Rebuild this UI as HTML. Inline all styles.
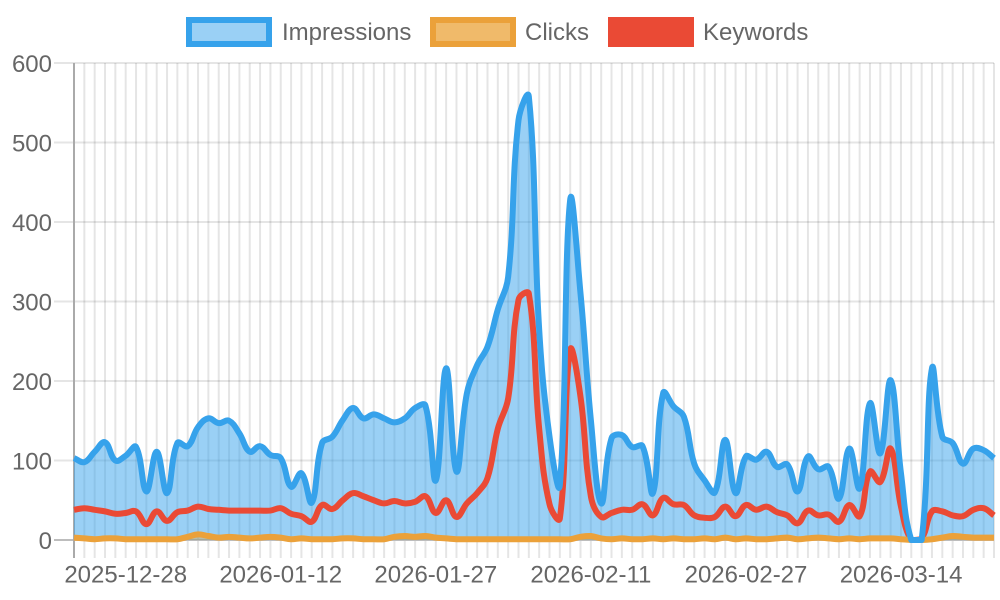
<!DOCTYPE html>
<html>
<head>
<meta charset="utf-8">
<style>
html,body{margin:0;padding:0;background:#fff;}
svg{display:block;}
text{font-family:"Liberation Sans",Arial,sans-serif;fill:#666;}
</style>
</head>
<body>
<svg id="c" width="1000" height="600" viewBox="0 0 1000 600" xmlns="http://www.w3.org/2000/svg">
<rect width="1000" height="600" fill="#fff"/>
<g id="grid"></g>
<g id="series"></g>
<!-- legend -->
<rect x="189" y="20" width="80" height="24" fill="#9ad0f5" stroke="#36a2eb" stroke-width="6"/>
<text x="282" y="40" font-size="24">Impressions</text>
<rect x="433" y="20" width="80" height="24" fill="#f0ba6a" stroke="#eba13a" stroke-width="6"/>
<text x="525" y="40" font-size="24">Clicks</text>
<rect x="611" y="20" width="80" height="24" fill="#ea4a35" stroke="#ea4a35" stroke-width="6"/>
<text x="703" y="40" font-size="24">Keywords</text>
<!-- y labels -->
<g font-size="24" text-anchor="end">
<text x="52" y="72">600</text>
<text x="52" y="151.5">500</text>
<text x="52" y="231">400</text>
<text x="52" y="310.5">300</text>
<text x="52" y="390">200</text>
<text x="52" y="469.5">100</text>
<text x="52" y="549">0</text>
</g>
<!-- x labels -->
<g font-size="24" text-anchor="middle">
<text x="125.7" y="582.5">2025-12-28</text>
<text x="280.7" y="582.5">2026-01-12</text>
<text x="435.8" y="582.5">2026-01-27</text>
<text x="590.9" y="582.5">2026-02-11</text>
<text x="746" y="582.5">2026-02-27</text>
<text x="901.1" y="582.5">2026-03-14</text>
</g>
</svg>
<script>
(function(){
var NS="http://www.w3.org/2000/svg";
var X0=74,X1=994,N=90,DX=(X1-X0)/(N-1),TOP=63,BOT=540;
function yv(v){return BOT-v*(BOT-TOP)/600;}
function el(tag,attrs,parent){var e=document.createElementNS(NS,tag);for(var k in attrs)e.setAttribute(k,attrs[k]);parent.appendChild(e);return e;}
var grid=document.getElementById('grid');
// vertical gridlines
for(var i=1;i<N;i++){var x=X0+i*DX;el('line',{x1:x,x2:x,y1:TOP,y2:558,stroke:'rgba(0,0,0,0.1)','stroke-width':2},grid);}
// horizontal gridlines
for(var k=1;k<=6;k++){var y=yv(k*100);el('line',{x1:54,x2:994,y1:y,y2:y,stroke:'rgba(0,0,0,0.1)','stroke-width':2},grid);}
// zero lines
el('line',{x1:54,x2:994,y1:BOT,y2:BOT,stroke:'#bdbdbd','stroke-width':2},grid);
el('line',{x1:X0,x2:X0,y1:TOP,y2:558,stroke:'#aaaaaa','stroke-width':2},grid);

var imp=[103,98,111,123,100,106,117,61,111,59,122,118,142,153,147,150,134,111,118,107,103,67,84,47,122,130,151,166,153,158,153,148,153,166,169,75,216,86,184,220,243,290,331,528,558,265,130,69,428,310,151,46,128,132,117,118,59,185,168,155,96,75,60,126,59,105,101,111,92,95,61,105,89,92,52,115,65,172,109,201,84,0,0,216,130,122,96,115,113,103];
var kw=[38,40,38,36,33,34,36,20,36,24,35,37,42,39,38,37,37,37,37,37,40,33,30,23,44,39,50,59,55,50,46,49,46,48,55,34,50,29,46,59,78,140,178,302,310,140,45,27,239,180,55,29,34,38,38,45,31,53,45,44,31,28,29,42,30,44,38,42,35,31,21,37,31,32,23,44,30,86,73,115,42,0,2,36,36,31,30,38,40,31];
var clk=[3,2,1,2,2,1,1,1,1,1,1,4,7,5,3,4,3,2,3,4,3,1,2,1,1,1,2,2,1,1,1,4,5,4,5,3,2,1,1,1,1,1,1,1,1,1,1,1,1,4,5,2,1,2,1,1,2,1,2,1,1,2,1,3,1,2,1,1,2,3,1,2,3,2,1,2,1,2,2,2,1,0,0,1,3,5,4,3,3,3];

function cap(v,a,b){return Math.max(a,Math.min(b,v));}
function path(data){
  var pts=data.map(function(v,i){return {x:X0+i*DX,y:yv(v)};});
  var cps=pts.map(function(p,i){
    var prev=pts[i-1]||p,next=pts[i+1]||p;
    var d01=Math.hypot(p.x-prev.x,p.y-prev.y),d12=Math.hypot(next.x-p.x,next.y-p.y);
    var s01=d01/(d01+d12),s12=d12/(d01+d12);
    if(!isFinite(s01))s01=0;if(!isFinite(s12))s12=0;
    var fa=0.4*s01,fb=0.4*s12;
    return {px:cap(p.x-fa*(next.x-prev.x),X0,X1),py:cap(p.y-fa*(next.y-prev.y),TOP,BOT),
            nx:cap(p.x+fb*(next.x-prev.x),X0,X1),ny:cap(p.y+fb*(next.y-prev.y),TOP,BOT)};
  });
  var d='M'+pts[0].x.toFixed(2)+','+pts[0].y.toFixed(2);
  for(var i=1;i<pts.length;i++){
    d+=' C'+cps[i-1].nx.toFixed(2)+','+cps[i-1].ny.toFixed(2)+' '+cps[i].px.toFixed(2)+','+cps[i].py.toFixed(2)+' '+pts[i].x.toFixed(2)+','+pts[i].y.toFixed(2);
  }
  return d;
}
var s=document.getElementById('series');
var pImp=path(imp),pKw=path(kw),pClk=path(clk);
el('path',{d:pImp+' L'+X1+','+BOT+' L'+X0+','+BOT+' Z',fill:'rgba(54,162,235,0.5)',stroke:'none'},s);
el('path',{d:pClk+' L'+X1+','+BOT+' L'+X0+','+BOT+' Z',fill:'rgba(235,161,58,0.4)',stroke:'none'},s);
el('path',{d:pKw,fill:'none',stroke:'#ea4a35','stroke-width':6,'stroke-linejoin':'round'},s);
el('path',{d:pClk,fill:'none',stroke:'#eba13a','stroke-width':6,'stroke-linejoin':'round'},s);
el('path',{d:pImp,fill:'none',stroke:'#36a2eb','stroke-width':6,'stroke-linejoin':'round'},s);
})();
</script>
</body>
</html>
